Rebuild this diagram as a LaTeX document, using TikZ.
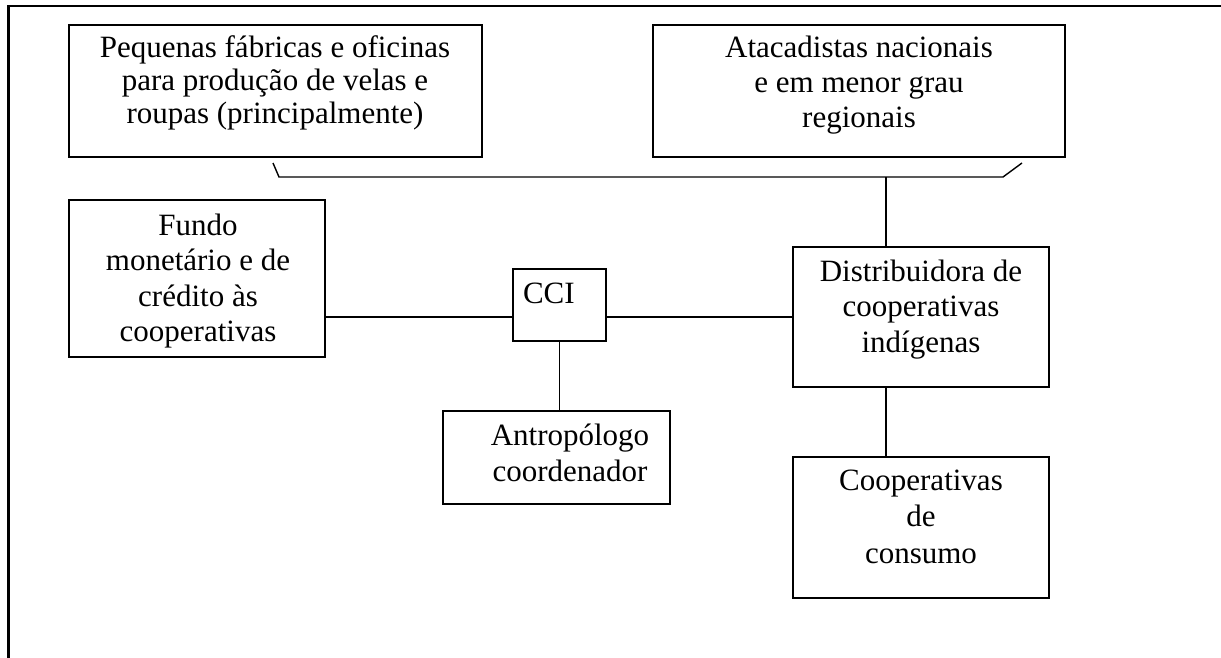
\documentclass[tikz,border=0pt]{standalone}
\usepackage{fontspec}
\setmainfont{Liberation Serif}
\begin{document}
\begin{tikzpicture}[x=1pt,y=-1pt,
  box/.style={draw, line width=1.6pt, rectangle, inner sep=0pt, outer sep=0pt},
  lbl/.style={anchor=base, align=center, inner sep=0pt, outer sep=0pt},
  link/.style={line width=1.4pt},
  frameline/.style={line width=2.6pt}]
\useasboundingbox (0,0) rectangle (1221,658);
% frame
\coordinate (fa) at (8.3,658);
\coordinate (fb) at (8.3,6);
\coordinate (fc) at (1221,6);
\draw[frameline] (fa) -- (fb) -- (fc);
% boxes
\node[box, minimum width=413pt, minimum height=132pt] (pq) at (275.5,91) {};
\node[box, minimum width=412pt, minimum height=132pt] (at) at (859,91) {};
\node[box, minimum width=256pt, minimum height=157pt] (fu) at (197,278.5) {};
\node[box, minimum width=93pt, minimum height=72pt] (cci) at (559.5,305) {};
\node[box, minimum width=256pt, minimum height=140pt] (dist) at (921,317) {};
\node[box, minimum width=227pt, minimum height=93pt] (antro) at (556.5,457.5) {};
\node[box, minimum width=256pt, minimum height=141pt] (coop) at (921,527.5) {};
% texts (base anchor = baseline of the last line)
\node[lbl, font=\fontsize{31}{33}\selectfont] (tpq) at (275,124) {Pequenas fábricas e oficinas\\para produção de velas e\\roupas (principalmente)};
\node[lbl, font=\fontsize{31}{35}\selectfont] (tat) at (859,128) {Atacadistas nacionais\\e em menor grau\\regionais};
\node[lbl, font=\fontsize{31}{35.5}\selectfont] (tfu) at (198,341.5) {Fundo\\monetário e de\\crédito às\\cooperativas};
\node[lbl, anchor=base west, font=\fontsize{31}{35.5}\selectfont] (tcci) at (523,303) {CCI};
\node[lbl, font=\fontsize{31}{35.5}\selectfont] (tdist) at (921,352) {Distribuidora de\\cooperativas\\indígenas};
\node[lbl, font=\fontsize{31}{36.7}\selectfont] (tantro) at (570,481.7) {Antropólogo\\coordenador};
\node[lbl, font=\fontsize{31}{36.5}\selectfont] (tcoop) at (921,563) {Cooperativas\\de\\consumo};
% bracket
\coordinate (b1) at (273,163);
\coordinate (b2) at (279,177);
\coordinate (b3) at (1003,177);
\coordinate (b4) at (1022,163);
\coordinate (j) at (886,177);
\draw[link] (b1) -- (b2) -- (b3) -- (b4);
% connectors
\draw[link] (j) -- (j |- dist.north);
\draw[link] (j |- dist.south) -- (j |- coop.north);
\draw[link] (fu.east |- dist.west) -- (cci.west |- dist.west);
\draw[link] (cci.east |- dist.west) -- (dist.west);
\draw[link] (cci.south) -- (cci.south |- antro.north);
\end{tikzpicture}
\end{document}
